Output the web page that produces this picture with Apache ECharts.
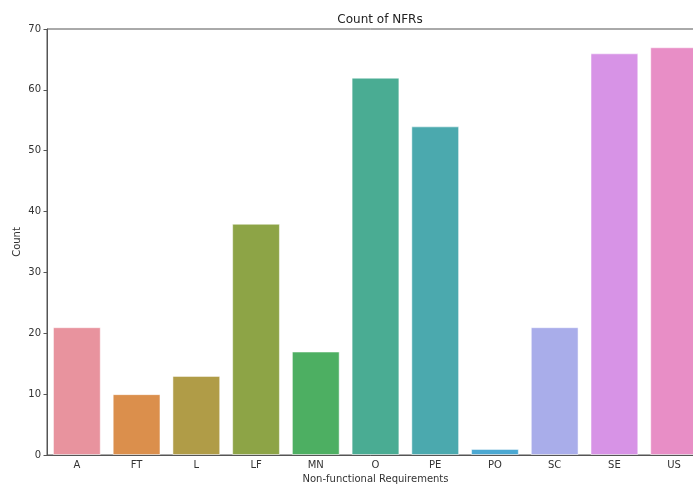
<!DOCTYPE html>
<html><head><meta charset="utf-8">
<script src="https://cdn.jsdelivr.net/npm/echarts@6/dist/echarts.min.js"></script>
<style>html,body{margin:0;padding:0;background:#fff}#c{width:693px;height:484px}</style>
</head><body><div id="c"></div>
<script>
const categories = ["A","FT","L","LF","MN","O","PE","PO","SC","SE","US"];
const counts = [21,10,13,38,17,62,54,1,21,66,67];
const colors = ["#e8939e","#db8f4c","#b09c47","#8da446","#4daf62","#4aac93","#4ba9ae","#4ba8d2","#a9adea","#d793e6","#e88ec6"];
const yTicks = [0,10,20,30,40,50,60,70];

const chart = echarts.init(document.getElementById('c'), null, {renderer:'canvas'});
chart.setOption({
  animation:false,
  title:{text:'Count of NFRs', left:375, top:9, textAlign:'center',
    textStyle:{fontFamily:'DejaVu Sans', fontSize:12, fontWeight:'normal', color:'#222'}},
  grid:{left:47, width:657, top:29, height:426, containLabel:false, outerBoundsMode:'none',
    show:true, borderColor:'#555', borderWidth:1},
  xAxis:{type:'category', data:categories, boundaryGap:true,
    name:'Non-functional Requirements', nameLocation:'middle', nameGap:19,
    nameTextStyle:{fontFamily:'DejaVu Sans', fontSize:10, color:'#333'},
    axisLine:{lineStyle:{color:'#555'}},
    axisTick:{alignWithLabel:true, length:3.5, lineStyle:{color:'#555'}},
    axisLabel:{fontFamily:'DejaVu Sans', fontSize:10, color:'#333', margin:5}},
  yAxis:{type:'value', min:yTicks[0], max:yTicks[yTicks.length-1], interval:10,
    name:'Count', nameLocation:'middle', nameGap:25, nameMoveOverlap:false,
    nameTextStyle:{fontFamily:'DejaVu Sans', fontSize:10, color:'#333'},
    splitLine:{show:false},
    axisLine:{show:true, lineStyle:{color:'#555'}},
    axisTick:{show:true, length:3.5, lineStyle:{color:'#555'}},
    axisLabel:{fontFamily:'DejaVu Sans', fontSize:10, color:'#333', margin:6}},
  series:[{type:'bar', barWidth:'80%',
    data:counts.map((v,i)=>({value:v, itemStyle:{color:colors[i], borderColor:'rgba(255,255,255,0.5)', borderWidth:1}}))}]
});
</script></body></html>
